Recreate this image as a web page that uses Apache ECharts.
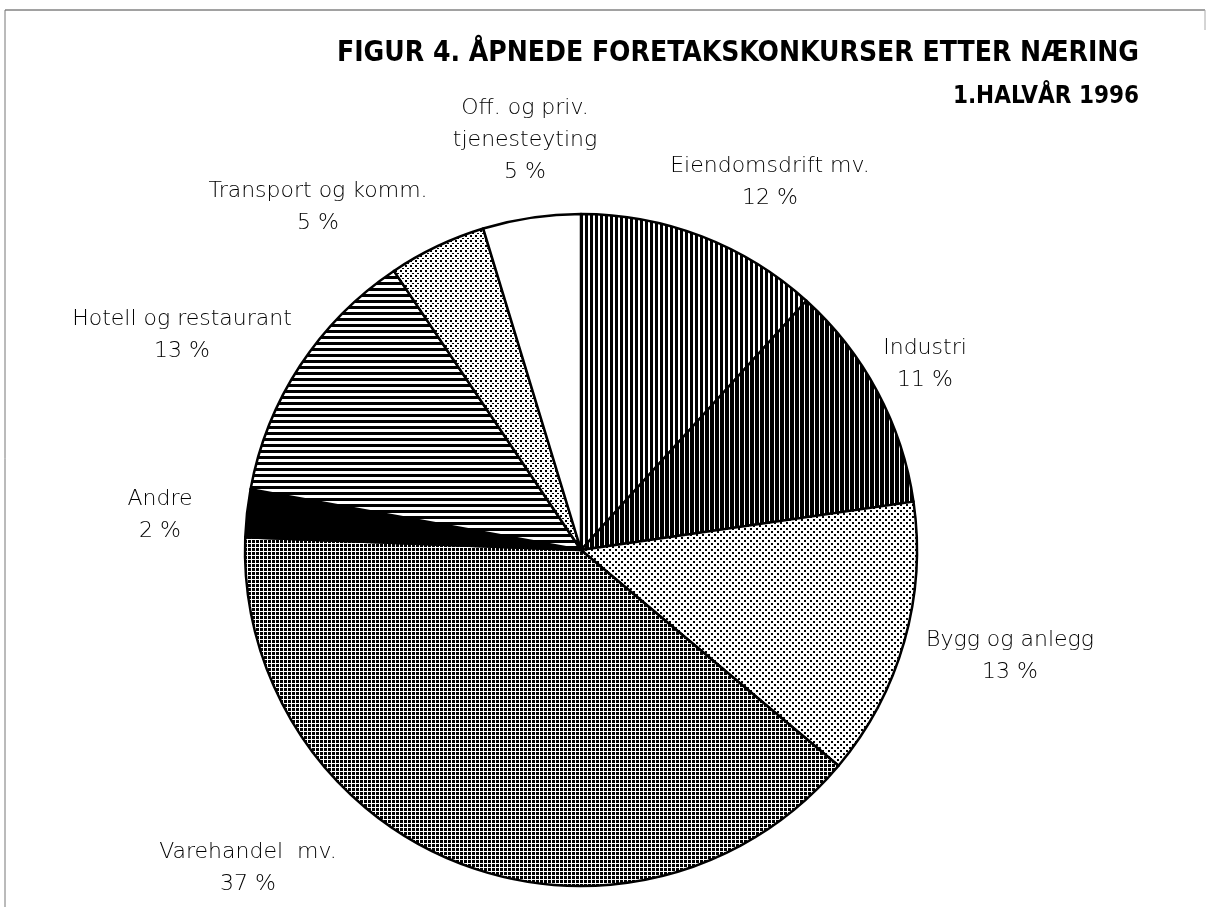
<!DOCTYPE html>
<html>
<head>
<meta charset="utf-8">
<script src="https://cdn.jsdelivr.net/npm/echarts@6/dist/echarts.min.js"></script>
<style>
  html, body { margin: 0; padding: 0; background: #fff; }
  #chart { width: 1211px; height: 907px; }
</style>
</head>
<body>
<div id="chart"></div>
<script>
// slices clockwise from 12 o'clock
const categories = ['Eiendomsdrift mv.', 'Industri', 'Bygg og anlegg', 'Varehandel  mv.', 'Andre', 'Hotell og restaurant', 'Transport og komm.', 'Off. og priv.\ntjenesteyting']
// angular shares
const shares = [11.7, 11.0, 13.4, 39.5, 2.3, 12.7, 4.7, 4.7]
// percentages as printed
const printed = ['12 %', '11 %', '13 %', '37 %', '2 %', '13 %', '5 %', '5 %']

const labelAt = [
  [770, 182], [925, 364], [1010, 656], [248, 868],
  [160, 515], [182, 335], [318, 207], [525, 140]
]

// small canvas tiles used as fill patterns
function tile (w, h, draw) {
  const c = document.createElement('canvas')
  c.width = w
  c.height = h
  const ctx = c.getContext('2d')
  ctx.fillStyle = '#fff'
  ctx.fillRect(0, 0, w, h)
  ctx.fillStyle = '#000'
  draw(ctx)
  return { image: c, repeat: 'repeat' }
}
const fills = [
  tile(5, 5, ctx => ctx.fillRect(0, 0, 3, 5)),              // vertical lines
  tile(5, 5, ctx => ctx.fillRect(0, 0, 4, 5)),              // dense vertical lines
  tile(6, 6, ctx => { ctx.fillRect(0, 0, 2, 2); ctx.fillRect(3, 3, 2, 2) }), // light dots
  tile(4, 4, ctx => ctx.fillRect(0, 0, 3, 3)),              // dark grid
  '#000',
  tile(6, 6, ctx => ctx.fillRect(0, 0, 6, 3)),              // horizontal lines
  tile(5, 5, ctx => { ctx.fillRect(0, 0, 2, 2); ctx.fillRect(2, 3, 2, 1) }), // dots
  '#fff'
]

const chart = echarts.init(document.getElementById('chart'))
const option = {
  backgroundColor: '#fff',
  animation: false,
  graphic: [
    { type: 'line', shape: { x1: 5, y1: 10, x2: 1205, y2: 10 }, style: { stroke: '#444', lineWidth: 1 } },
    { type: 'line', shape: { x1: 5, y1: 10, x2: 5, y2: 907 }, style: { stroke: '#777', lineWidth: 1 } },
    { type: 'line', shape: { x1: 1205, y1: 10, x2: 1205, y2: 30 }, style: { stroke: '#aaa', lineWidth: 1 } },
    {
      type: 'text',
      right: 72,
      top: 40,
      style: {
        text: 'FIGUR 4. ÅPNEDE FORETAKSKONKURSER ETTER NÆRING',
        font: 'bold 28px "DejaVu Sans Condensed", "Liberation Sans Narrow", sans-serif',
        fill: '#000'
      }
    },
    {
      type: 'text',
      right: 72,
      top: 85,
      style: {
        text: '1.HALVÅR 1996',
        font: 'bold 24px "DejaVu Sans Condensed", "Liberation Sans Narrow", sans-serif',
        fill: '#000'
      }
    }
  ],
  series: [
    {
      type: 'pie',
      center: [581, 550],
      radius: 336,
      startAngle: 90,
      clockwise: true,
      silent: true,
      itemStyle: { borderColor: '#000', borderWidth: 2.5 },
      label: {
        show: true,
        position: 'outside',
        formatter: p => p.name + '\n' + printed[p.dataIndex],
        fontFamily: '"DejaVu Sans", sans-serif',
        fontWeight: 200,
        fontSize: 22,
        lineHeight: 32,
        color: '#000',
        align: 'center'
      },
      labelLine: { show: false },
      labelLayout: params => ({
        x: labelAt[params.dataIndex][0],
        y: labelAt[params.dataIndex][1],
        align: 'center',
        verticalAlign: 'middle'
      }),
      data: categories.map((name, i) => ({
        name,
        value: shares[i],
        itemStyle: { color: fills[i] }
      }))
    }
  ]
}
chart.setOption(option)
</script>
</body>
</html>
